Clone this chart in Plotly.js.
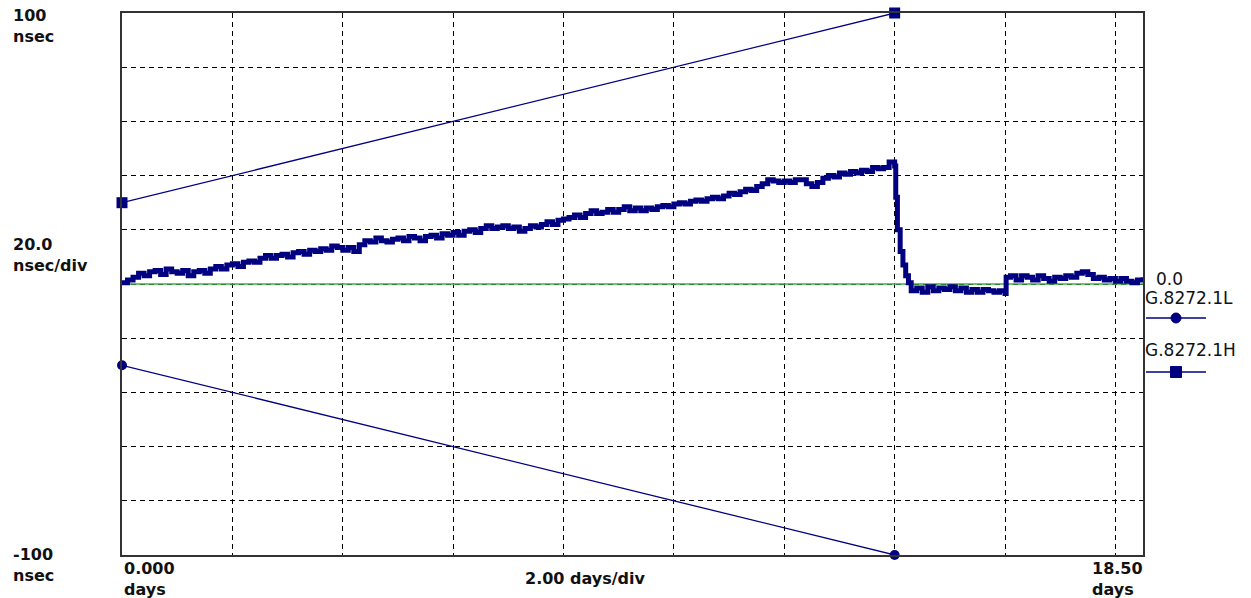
<!DOCTYPE html>
<html>
<head>
<meta charset="utf-8">
<script src="https://cdn.plot.ly/plotly-3.0.1.min.js"></script>
<style>
  html, body { margin: 0; padding: 0; background: #ffffff; }
  #chart { width: 1251px; height: 598px; }
</style>
</head>
<body>
<div id="chart"></div>
<script>
// Measured time error trace (days, nsec)
const teDays = [
  0.0,0.1,0.2,0.3,0.4,0.5,0.6,0.7,0.8,0.9,
  1.0,1.1,1.2,1.3,1.4,1.5,1.6,1.7,1.8,1.9,
  2.0,2.1,2.2,2.3,2.4,2.5,2.6,2.7,2.8,2.9,
  3.0,3.1,3.2,3.3,3.4,3.5,3.6,3.7,3.8,3.9,
  4.0,4.1,4.2,4.3,4.4,4.5,4.6,4.7,4.8,4.9,
  5.0,5.1,5.2,5.3,5.4,5.5,5.6,5.7,5.8,5.9,
  6.0,6.1,6.2,6.3,6.4,6.5,6.6,6.7,6.8,6.9,
  7.0,7.1,7.2,7.3,7.4,7.5,7.6,7.7,7.8,7.9,
  8.0,8.1,8.2,8.3,8.4,8.5,8.6,8.7,8.8,8.9,
  9.0,9.1,9.2,9.3,9.4,9.5,9.6,9.7,9.8,9.9,
  10.0,10.1,10.2,10.3,10.4,10.5,10.6,10.7,10.8,10.9,
  11.0,11.1,11.2,11.3,11.4,11.5,11.6,11.7,11.8,11.9,
  12.0,12.1,12.2,12.3,12.4,12.5,12.6,12.7,12.8,12.9,
  13.0,13.1,13.2,13.3,13.4,13.5,13.6,13.7,13.8,13.9,
  14.0,14.02,14.05,14.1,14.15,14.2,14.25,14.3,
  14.4,14.5,14.6,14.7,14.8,14.9,15.0,15.1,15.2,15.3,
  15.4,15.5,15.6,15.7,15.8,15.9,16.0,16.02,16.1,16.2,
  16.3,16.4,16.5,16.6,16.7,16.8,16.9,17.0,17.1,17.2,
  17.3,17.4,17.5,17.6,17.7,17.8,17.9,18.0,18.1,18.2,
  18.3,18.4,18.5
];
const teNsec = [
  0.5,1.5,2.5,4.0,3.0,4.5,5.0,3.5,5.5,4.5,
  4.0,5.0,3.0,4.5,5.0,4.0,5.5,6.5,5.5,7.0,
  7.5,6.5,8.0,8.5,8.0,9.5,10.5,9.5,10.5,11.0,
  10.0,11.5,12.0,11.0,12.5,12.0,13.0,12.5,14.0,13.5,
  12.5,13.5,12.0,14.5,16.0,15.5,17.0,16.0,15.5,16.5,
  17.0,16.0,17.5,17.0,16.0,17.5,18.0,17.0,18.5,18.0,
  19.0,18.0,19.5,20.0,19.0,20.5,21.5,20.5,21.0,21.5,
  20.5,21.0,19.5,20.5,21.5,21.0,22.0,23.0,22.0,23.5,
  24.0,24.5,25.5,24.5,26.0,27.0,26.0,26.5,27.5,26.5,
  27.5,28.5,27.0,28.0,27.0,28.0,27.5,28.5,29.0,28.5,
  29.5,30.0,29.5,30.5,31.0,30.5,31.5,32.0,31.5,32.5,
  33.5,33.0,34.0,35.0,34.5,36.0,37.0,38.5,38.0,37.5,
  38.0,37.5,38.5,38.5,37.0,36.0,37.5,39.0,40.0,39.5,
  41.0,40.5,41.5,41.0,42.0,41.5,43.0,42.5,43.0,45.0,
  43.5,32.0,20.0,12.0,7.0,3.0,0.5,-2.5,
  -1.5,-3.0,-1.0,-2.5,-1.5,-2.0,-1.0,-2.5,-1.5,-3.0,
  -2.0,-3.0,-2.0,-2.5,-3.0,-2.5,-3.5,2.5,3.0,1.5,
  3.0,2.5,1.5,3.0,2.0,1.0,2.5,2.0,3.0,2.5,
  4.0,4.5,3.5,2.0,2.5,1.5,2.0,1.0,2.0,1.0,
  0.5,1.5,2.5
];
// Mask limits
const maskDays = [0, 14];
const maskHigh = [30, 100];   // G.8272.1H
const maskLow = [-30, -100];  // G.8272.1L
const refDays = [0, 18.5];
const refNsec = [0, 0];

const navy = '#000080';
const ink = '#111111';
const fontB = {family: 'DejaVu Sans, Verdana, sans-serif', size: 16, color: ink, weight: 'bold'};
const fontLeg = {family: 'DejaVu Sans, Verdana, sans-serif', size: 17, color: ink};

// plot area in pixels
const L = 122, R = 1143, T = 13, B = 555;
const px = v => (v - L) / (R - L);
const py = v => (B - v) / (B - T);

const traces = [
  {x: refDays, y: refNsec, mode: 'lines', line: {color: '#3cb043', width: 1.5}, hoverinfo: 'skip', showlegend: false},
  {x: maskDays, y: maskHigh, mode: 'lines+markers', name: 'G.8272.1H',
   line: {color: navy, width: 1.3}, marker: {symbol: 'square', size: 11, color: navy}, cliponaxis: false, showlegend: false},
  {x: maskDays, y: maskLow, mode: 'lines+markers', name: 'G.8272.1L',
   line: {color: navy, width: 1.3}, marker: {symbol: 'circle', size: 10, color: navy}, cliponaxis: false, showlegend: false},
  {x: teDays, y: teNsec, mode: 'lines', line: {color: navy, width: 5, shape: 'hv'}, showlegend: false}
];

const ann = (text, x, y, xa, ya, font, align) => ({
  text, xref: 'paper', yref: 'paper', x: px(x), y: py(y), xanchor: xa, yanchor: ya,
  showarrow: false, font: font || fontB, align: align || 'left'
});

const layout = {
  width: 1251, height: 598,
  margin: {l: L, r: 1251 - R, t: T, b: 598 - B, pad: 0},
  paper_bgcolor: '#ffffff', plot_bgcolor: '#ffffff',
  showlegend: false,
  xaxis: {range: [0, 18.5], dtick: 2, tick0: 0, showticklabels: false, ticks: '',
          showgrid: true, gridcolor: '#000000', gridwidth: 1, griddash: '5px,4px',
          zeroline: false, showline: true, mirror: true, linecolor: '#333333', linewidth: 2, fixedrange: true},
  yaxis: {range: [-100, 100], dtick: 20, tick0: -100, showticklabels: false, ticks: '',
          showgrid: true, gridcolor: '#000000', gridwidth: 1, griddash: '5px,4px',
          zeroline: false, showline: true, mirror: true, linecolor: '#333333', linewidth: 2, fixedrange: true},
  annotations: [
    ann('100<br>nsec', 11, 4, 'left', 'top'),
    ann('20.0<br>nsec/div', 11, 233, 'left', 'top'),
    ann('-100<br>nsec', 11, 543, 'left', 'top'),
    ann('0.000<br>days', 122, 557, 'left', 'top'),
    ann('2.00 days/div', 585, 578, 'center', 'middle'),
    ann('18.50<br>days', 1090, 557, 'left', 'top'),
    ann('0.0', 1154, 279, 'left', 'middle', fontLeg),
    ann('G.8272.1L', 1143, 298, 'left', 'middle', fontLeg),
    ann('G.8272.1H', 1143, 350, 'left', 'middle', fontLeg)
  ],
  shapes: [
    {type: 'line', xref: 'paper', yref: 'paper', x0: px(1146), x1: px(1206), y0: py(318), y1: py(318), line: {color: navy, width: 1.3}},
    {type: 'circle', xref: 'paper', yref: 'paper', xsizemode: 'pixel', ysizemode: 'pixel',
     xanchor: px(1176), yanchor: py(318), x0: -5, x1: 5, y0: -5, y1: 5, fillcolor: navy, line: {color: navy, width: 1}},
    {type: 'line', xref: 'paper', yref: 'paper', x0: px(1146), x1: px(1206), y0: py(372), y1: py(372), line: {color: navy, width: 1.3}},
    {type: 'rect', xref: 'paper', yref: 'paper', xsizemode: 'pixel', ysizemode: 'pixel',
     xanchor: px(1176), yanchor: py(372), x0: -5.5, x1: 5.5, y0: -5.5, y1: 5.5, fillcolor: navy, line: {color: navy, width: 1}}
  ]
};

Plotly.newPlot('chart', traces, layout, {displayModeBar: false, staticPlot: true});
</script>
</body>
</html>
